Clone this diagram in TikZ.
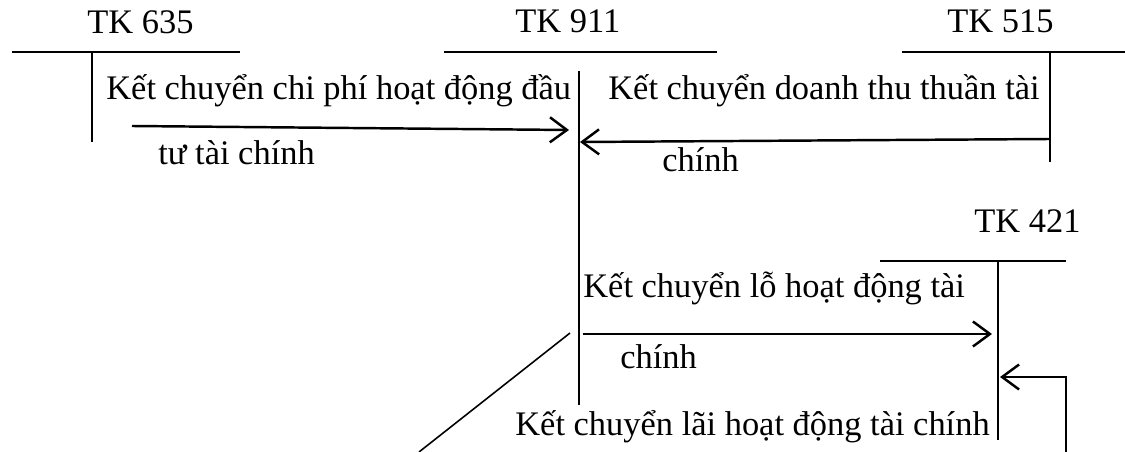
\documentclass[tikz,border=0pt]{standalone}
\usepackage{fontspec}
\setmainfont{Liberation Serif}
\usetikzlibrary{arrows.meta}

\begin{document}
\begin{tikzpicture}[x=0.02cm,y=-0.02cm]

\tikzstyle{lbl} = [inner sep=0pt, anchor=base west,
	font=\fontsize{19.6}{22}\selectfont];
\tikzstyle{acct} = [line width=1.1pt];
\tikzstyle{flow} = [line width=1.4pt,
	-{Straight Barb[length=3.4mm,width=5mm]}];
\useasboundingbox (0,0) rectangle (1125,452);

% account titles
\node[lbl] (n635) at (87,34) {TK 635};
\node[lbl] (n911) at (515,33) {TK 911};
\node[lbl] (n515) at (947,33) {TK 515};
\node[lbl] (n421) at (974,233) {TK 421};

% T-accounts
\coordinate (a635w) at (12,52);   \coordinate (a635e) at (240,52);
\coordinate (a635t) at (92,52);   \coordinate (a635b) at (92,142);
\coordinate (a911w) at (444,52);  \coordinate (a911e) at (717,52);
\coordinate (a911t) at (579,71);  \coordinate (a911b) at (579,405);
\coordinate (a515w) at (902,52);  \coordinate (a515e) at (1125,52);
\coordinate (a515t) at (1050,52); \coordinate (a515b) at (1050,162);
\coordinate (a421w) at (880,261); \coordinate (a421e) at (1066,261);
\coordinate (a421t) at (998,261); \coordinate (a421b) at (998,440);

\draw[acct] (a635w) -- (a635e);
\draw[acct] (a635t) -- (a635b);
\draw[acct] (a911w) -- (a911e);
\draw[acct] (a911t) -- (a911b);
\draw[acct] (a515w) -- (a515e);
\draw[acct] (a515t) -- (a515b);
\draw[acct] (a421w) -- (a421e);
\draw[acct] (a421t) -- (a421b);

% entries
\node[lbl] (k1a) at (106,100) {Kết chuyển chi phí hoạt động đầu};
\node[lbl] (k1b) at (158,165) {tư tài chính};
\coordinate (f1s) at (132,126);
\coordinate (f1e) at (569,130);
\draw[flow] (f1s) -- (f1e);

\node[lbl] (k2a) at (608,100) {Kết chuyển doanh thu thuần tài};
\node[lbl] (k2b) at (662,172) {chính};
\coordinate (f2s) at (1050,139);
\coordinate (f2e) at (580,142);
\draw[flow] (f2s) -- (f2e);

\node[lbl] (k3a) at (583,297) {Kết chuyển lỗ hoạt động tài};
\node[lbl] (k3b) at (620,368) {chính};
\coordinate (f3s) at (583,334);
\coordinate (f3e) at (992,334);
\draw[flow] (f3s) -- (f3e);

\node[lbl] (k4a) at (515,435) {Kết chuyển lãi hoạt động tài chính};
\coordinate (f4s) at (1066,452);
\coordinate (f4e) at (1000,377);
\draw[flow] (f4s) |- (f4e);

\coordinate (d1) at (570,333);
\coordinate (d2) at (419,452);
\draw[line width=0.9pt] (d1) -- (d2);

\end{tikzpicture}
\end{document}
